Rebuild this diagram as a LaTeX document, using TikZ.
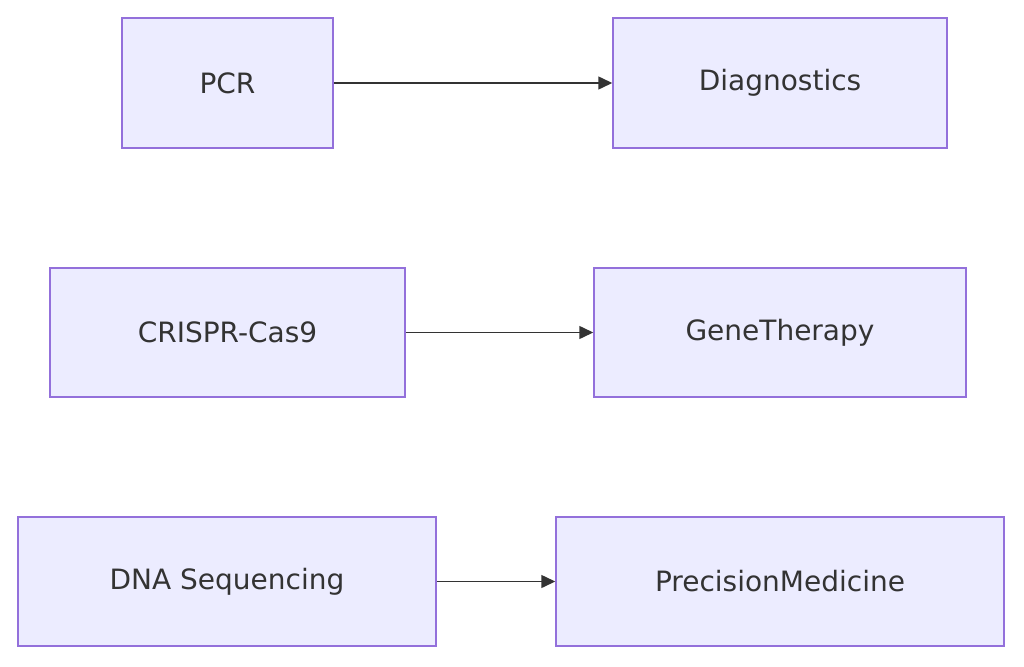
\documentclass[tikz,border=0pt]{standalone}
\usepackage{fontspec}
\setmainfont{DejaVu Sans}
\usetikzlibrary{arrows.meta}
\definecolor{boxfill}{HTML}{ECECFF}
\definecolor{boxline}{HTML}{9370DB}
\definecolor{edge}{HTML}{333333}
\begin{document}
\begin{tikzpicture}[x=1pt,y=-1pt,
  box/.style={draw=boxline,fill=boxfill,line width=1.5pt,inner sep=0pt,anchor=center,font=\fontsize{28}{32}\selectfont,text=edge},
  arr/.style={draw=edge,line width=1.5pt,-{Triangle[length=14pt,width=13pt]}}]
\useasboundingbox (0,0) rectangle (1024,666);
\node[box,minimum width=211pt,minimum height=130pt] (pcr) at (227.5,83) {PCR};
\node[box,minimum width=334pt,minimum height=130pt] (dia) at (780,83) {Diagnostics};
\node[box,minimum width=355pt,minimum height=129pt] (cr) at (227.5,332.5) {CRISPR-Cas9};
\node[box,minimum width=372pt,minimum height=129pt] (gt) at (780,332.5) {GeneTherapy};
\node[box,minimum width=418pt,minimum height=129pt] (dna) at (227,581.5) {DNA Sequencing};
\node[box,minimum width=448pt,minimum height=129pt] (pm) at (780,581.5) {PrecisionMedicine};
\draw[arr] (pcr) -- (dia);
\draw[arr] (cr) -- (gt);
\draw[arr] (dna) -- (pm);
\end{tikzpicture}
\end{document}
